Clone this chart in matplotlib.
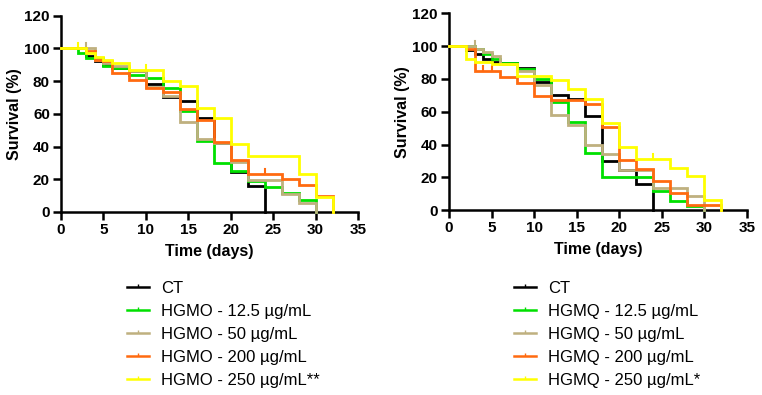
import matplotlib
matplotlib.use("Agg")
import matplotlib.pyplot as plt
from matplotlib.lines import Line2D

plt.rcParams['font.family'] = ['Liberation Sans', 'DejaVu Sans']

# ---------------- data ----------------
colors = ['#000000', '#00E000', '#BFB07F', '#FF6A10', '#FFFF00']

labels_left = ['CT', 'HGMO - 12.5 µg/mL', 'HGMO - 50 µg/mL',
               'HGMO - 200 µg/mL', 'HGMO - 250 µg/mL**']
labels_right = ['CT', 'HGMQ - 12.5 µg/mL', 'HGMQ - 50 µg/mL',
                'HGMQ - 200 µg/mL', 'HGMQ - 250 µg/mL*']

# Left panel (HGMO) step curves
ct_L_t = [0, 3, 4, 5, 6, 8, 10, 12, 14, 16, 18, 20, 22, 24]
ct_L_s = [100, 95.5, 92, 90, 88, 86, 78, 70, 68, 57.5, 42, 24.5, 16, 0]
g_L_t = [0, 2, 3, 5, 6, 8, 10, 12, 14, 16, 18, 20, 22, 24, 26, 28, 30]
g_L_s = [100, 97, 94, 89.5, 88, 84, 82, 76, 62, 43.5, 30, 25, 19, 15, 11.5, 7.5, 0]
t50_L_t = [0, 4, 5, 6, 8, 10, 12, 14, 16, 18, 20, 22, 24, 26, 28, 30]
t50_L_s = [100, 93, 91, 89, 86, 76.5, 71, 55, 44.5, 42, 30.5, 19.5, 19.5, 11, 5.5, 0]
o_L_t = [0, 3, 4, 5, 6, 8, 10, 12, 14, 16, 18, 20, 22, 24, 26, 28, 30, 32]
o_L_s = [100, 98.5, 93, 92, 85, 80.5, 76, 73.5, 63, 56, 42.5, 32, 23.5, 23.5, 20, 16.5, 10, 0]
y_L_t = [0, 3, 4, 5, 6, 8, 10, 12, 14, 16, 18, 20, 22, 28, 30, 32]
y_L_s = [100, 97, 95, 93, 91, 87, 87, 80, 77, 63.5, 57.5, 41.5, 34.5, 23, 9, 0]

# Right panel (HGMQ) step curves
ct_R_t = [0, 2, 3, 4, 5, 6, 8, 10, 12, 14, 16, 18, 20, 22, 24]
ct_R_s = [100, 97.5, 95, 92, 90.5, 89.5, 86.5, 78, 70.5, 68, 57.5, 30, 24.5, 16, 0]
g_R_t = [0, 3, 4, 5, 6, 8, 10, 12, 14, 16, 18, 24, 26, 28, 30]
g_R_s = [100, 98, 95, 92, 89.5, 86, 80, 66, 54, 35, 20.5, 11.5, 5.5, 2.5, 0]
t50_R_t = [0, 3, 4, 5, 6, 8, 10, 12, 14, 16, 18, 20, 24, 28, 30]
t50_R_s = [100, 98, 96.5, 94, 89, 85, 76.5, 58, 52, 39.5, 34.5, 24.5, 13.5, 8.5, 0]
o_R_t = [0, 2, 3, 6, 8, 10, 12, 16, 18, 20, 22, 24, 26, 28, 32]
o_R_s = [100, 98, 85, 81.5, 77.5, 69.5, 67, 65, 51, 30.5, 25, 18, 10.5, 3.5, 0]
y_R_t = [0, 2, 3, 5, 8, 12, 14, 16, 18, 20, 22, 26, 28, 30, 32]
y_R_s = [100, 92, 90.5, 89, 82, 79.5, 74, 68, 53, 38.5, 31.5, 26, 21, 6.5, 0]

# censor marks (time, survival, series index)
cens_L_t = [2, 3, 10, 24]
cens_L_s = [100, 100, 87, 23.5]
cens_L_c = [4, 2, 4, 3]
cens_R_t = [3, 4, 5, 24]
cens_R_s = [100, 85, 85, 31.5]
cens_R_c = [2, 3, 3, 4]

xticks = [0, 5, 10, 15, 20, 25, 30, 35]
yticks = [0, 20, 40, 60, 80, 100, 120]

left_series = [(ct_L_t, ct_L_s), (g_L_t, g_L_s), (t50_L_t, t50_L_s),
               (o_L_t, o_L_s), (y_L_t, y_L_s)]
right_series = [(ct_R_t, ct_R_s), (g_R_t, g_R_s), (t50_R_t, t50_R_s),
                (o_R_t, o_R_s), (y_R_t, y_R_s)]

# ---------------- figure ----------------
fig = plt.figure(figsize=(7.62, 3.95), dpi=100)
axL = fig.add_axes([0.0801, 0.4633, 0.3898, 0.4970])
axR = fig.add_axes([0.5892, 0.4676, 0.3911, 0.4987])

def draw(ax, series, ct, cs, cc, labels, leg_x):
    for i in range(5):
        t, s = series[i]
        ax.step(t, s, where='post', color=colors[i], lw=2.0,
                solid_joinstyle='miter', clip_on=False, zorder=2 + i * 0.1)
    for t, s, c in zip(ct, cs, cc):
        ax.plot([t, t], [s, s + 3], color=colors[c], lw=1.5, clip_on=False)
    ax.set_xlim(0, 35)
    ax.set_ylim(0, 120)
    ax.set_xticks(xticks)
    ax.set_yticks(yticks)
    for sp in ['top', 'right']:
        ax.spines[sp].set_visible(False)
    for sp in ['left', 'bottom']:
        ax.spines[sp].set_linewidth(1.8)
        ax.spines[sp].set_zorder(1)
    ax.tick_params(direction='out', length=5.5, width=1.8, labelsize=11, pad=2.5)
    for lab in ax.get_xticklabels() + ax.get_yticklabels():
        lab.set_fontweight('bold')
    ax.set_xlabel('Time (days)', fontsize=11.5, fontweight='bold', labelpad=5)
    ax.set_ylabel('Survival (%)', fontsize=11.5, fontweight='bold', labelpad=2)
    handles = [Line2D([0], [0], color=colors[i], lw=1.8, marker=2,
                      markersize=2.5, markeredgewidth=1.0) for i in range(5)]
    ax.legend(handles, labels, loc='upper left',
              bbox_to_anchor=(leg_x, 0.288), bbox_transform=fig.transFigure,
              frameon=False, fontsize=12, handlelength=1.3,
              handletextpad=0.72, labelspacing=0.47, borderpad=0,
              borderaxespad=0)

draw(axL, left_series, cens_L_t, cens_L_s, cens_L_c, labels_left, 127 / 762)
draw(axR, right_series, cens_R_t, cens_R_s, cens_R_c, labels_right, 514 / 762)

fig.savefig('out.png', dpi=100)
